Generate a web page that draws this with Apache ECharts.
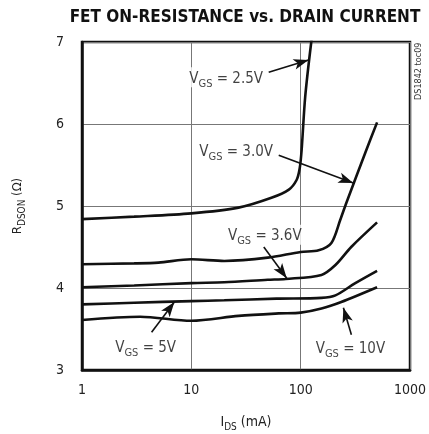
<!DOCTYPE html>
<html><head><meta charset="utf-8">
<script src="https://cdn.jsdelivr.net/npm/echarts@6/dist/echarts.min.js"></script>
<style>html,body{margin:0;padding:0;background:#fff}#c{width:429px;height:434px}</style>
</head><body><div id="c"></div>
<script>
const title = 'FET ON-RESISTANCE vs. DRAIN CURRENT';
const xTicks = [1, 10, 100, 1000];
const yTicks = [3, 4, 5, 6, 7];

const i25 = [1, 3, 10, 27, 54, 78, 92, 98, 102, 110, 125, 132];
const r25 = [4.84, 4.87, 4.91, 4.98, 5.10, 5.20, 5.32, 5.46, 5.68, 6.33, 7.0, 7.2];
const i30 = [1, 3, 5, 10, 20, 50, 100, 146, 191, 230, 262, 390, 500];
const r30 = [4.29, 4.30, 4.31, 4.35, 4.33, 4.37, 4.44, 4.46, 4.55, 4.83, 5.04, 5.65, 6.02];
const i36 = [1, 3, 10, 20, 50, 73, 155, 208, 290, 500];
const r36 = [4.01, 4.03, 4.06, 4.07, 4.10, 4.11, 4.16, 4.28, 4.50, 4.80];
const i50 = [1, 3, 10, 20, 60, 155, 208, 316, 500];
const r50 = [3.80, 3.82, 3.84, 3.85, 3.87, 3.88, 3.91, 4.06, 4.21];
const i10 = [1, 3.4, 10, 27, 63, 100, 155, 235, 500];
const r10 = [3.61, 3.65, 3.60, 3.66, 3.69, 3.70, 3.75, 3.83, 4.01];

// annotation labels
const annVgs = ['2.5V', '3.0V', '3.6V', '5V', '10V'];
const annLabelI = [20.8, 25.7, 47, 3.82, 285];
const annLabelR = [6.57, 5.68, 4.65, 3.28, 3.27];
const annFromI = [51, 63, 46, 4.33, 291];
const annFromR = [6.63, 5.62, 4.50, 3.46, 3.43];
const annToI = [118, 303, 74.6, 7.0, 246];
const annToR = [6.78, 5.28, 4.12, 3.83, 3.76];

const FONT = "'DejaVu Sans Condensed', 'Roboto Condensed', Roboto, sans-serif";
const pairs = (a, b) => a.map((v, k) => [v, b[k]]);
const curve = (name, a, b) => ({
  name, type: 'line', data: pairs(a, b), smooth: 0.3, showSymbol: false,
  lineStyle: { color: '#111', width: 2.6 }, clip: true, z: 3
});

const chart = echarts.init(document.getElementById('c'));
chart.setOption({
  animation: false,
  title: {
    text: title, left: 240, top: 4, textAlign: 'center',
    textStyle: { fontFamily: FONT, fontWeight: 'bold', fontSize: 17, color: '#111' }
  },
  grid: { left: 82, right: 19, top: 42, bottom: 64, show: true, borderColor: '#111', borderWidth: 2.5,
    containLabel: false, outerBoundsMode: 'none' },
  xAxis: {
    type: 'log', logBase: 10, min: 1, max: 1000,
    axisLine: { show: true, lineStyle: { color: '#111', width: 2.5 } },
    axisTick: { show: false },
    splitLine: { show: true, lineStyle: { color: '#777', width: 1 } },
    axisLabel: { fontFamily: FONT, fontSize: 14, color: '#222', margin: 13,
      formatter: v => xTicks.includes(Math.round(v)) ? String(Math.round(v)) : '' },
    name: '{a|I}{b|DS}{a| (mA)}', nameLocation: 'middle', nameGap: 43,
    nameTextStyle: { rich: {
      a: { fontFamily: FONT, fontSize: 14, color: '#222', verticalAlign: 'bottom', lineHeight: 16 },
      b: { fontFamily: FONT, fontSize: 10, color: '#222', verticalAlign: 'bottom', lineHeight: 12, padding: [0, 0, -3, 0] } } }
  },
  yAxis: {
    type: 'value', min: 3, max: 7, interval: 1,
    axisLine: { show: true, lineStyle: { color: '#111', width: 2.5 } },
    axisTick: { show: false },
    splitLine: { show: true, lineStyle: { color: '#777', width: 1 } },
    axisLabel: { fontFamily: FONT, fontSize: 14, color: '#222', margin: 18,
      formatter: v => yTicks.includes(v) ? String(v) : '' },
    name: '{a|R}{b|DSON}{a| (Ω)}', nameLocation: 'middle', nameGap: 58, nameRotate: 90,
    nameTextStyle: { rich: {
      a: { fontFamily: FONT, fontSize: 13, color: '#222', verticalAlign: 'bottom', lineHeight: 16 },
      b: { fontFamily: FONT, fontSize: 10, color: '#222', verticalAlign: 'bottom', lineHeight: 12, padding: [0, 0, -3, 0] } } }
  },
  graphic: [{
    type: 'text', x: 414, y: 100, rotation: Math.PI / 2,
    style: { text: 'DS1842 toc09', fontFamily: FONT, fontSize: 9, fill: '#333', textBaseline: 'top' }
  }],
  series: [
    curve('2.5V', i25, r25), curve('3.0V', i30, r30), curve('3.6V', i36, r36),
    curve('5V', i50, r50), curve('10V', i10, r10),
    {
      type: 'scatter', symbolSize: 0, z: 4,
      data: annVgs.map((t, k) => ({ value: [annLabelI[k], annLabelR[k]], t })),
      label: {
        show: true, position: 'inside', backgroundColor: '#fff', padding: [1, 2], color: '#111',
        formatter: p => '{v|V}{s|GS}{v| = ' + p.data.t + '}',
        rich: {
          v: { fontFamily: FONT, fontSize: 15, color: '#111', verticalAlign: 'bottom', lineHeight: 18 },
          s: { fontFamily: FONT, fontSize: 11, color: '#111', verticalAlign: 'bottom', lineHeight: 14, padding: [0, 0, -3, 0] }
        }
      },
      markLine: {
        silent: true, symbol: ['none', 'arrow'], symbolSize: [8, 15],
        lineStyle: { color: '#111', width: 1.6, type: 'solid' },
        label: { show: false },
        data: annVgs.map((t, k) => [
          { coord: [annFromI[k], annFromR[k]] },
          { coord: [annToI[k], annToR[k]] }
        ])
      }
    }
  ]
});
</script></body></html>
